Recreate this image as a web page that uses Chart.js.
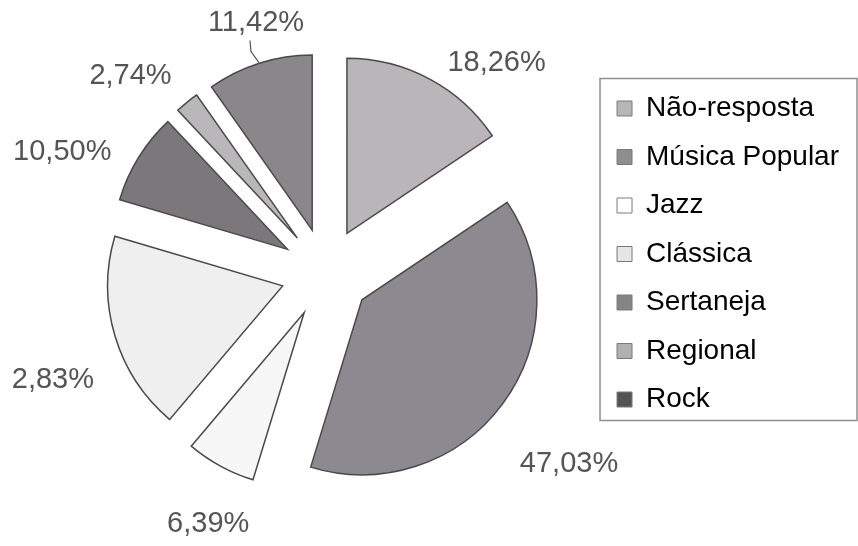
<!DOCTYPE html>
<html>
<head>
<meta charset="utf-8">
<script src="https://cdn.jsdelivr.net/npm/chart.js@4.4.1/dist/chart.umd.min.js"></script>
<style>
  html, body { margin: 0; padding: 0; background: #ffffff; }
  canvas { display: block; }
</style>
</head>
<body>
<canvas id="c" width="858" height="546"></canvas>
<script>
const categories = ['Não-resposta', 'Música Popular', 'Jazz', 'Clássica', 'Sertaneja', 'Regional', 'Rock'];
const shares = [15.5, 38.9, 6.4, 18.3, 8.4, 2.2, 9.7];
const percentLabels = ['18,26%', '47,03%', '6,39%', '2,83%', '10,50%', '2,74%', '11,42%'];

// ---- styling ----
const sliceColors = ['#b9b5b9', '#8d8990', '#f7f7f7', '#efefef', '#7b777b', '#b9b7b9', '#8a8689'];
const legendColors = ['#b6b6b6', '#8e8e8e', '#ffffff', '#e6e6e6', '#848484', '#b0b0b0', '#545454'];
const labelNudgeDeg = [11, 1.5, -3.5, -4.7, -7, -5.7, 2];
const labelDist = [271, 309, 277, 293, 290, 277, 260];
const leaderLabel = 6;
const EXPLODE = 45;

const explodePlugin = {
  id: 'explode',
  afterDatasetsUpdate(chart) {
    const meta = chart.getDatasetMeta(0);
    meta.data.forEach(arc => {
      const mid = (arc.startAngle + arc.endAngle) / 2;
      arc.x += Math.cos(mid) * EXPLODE;
      arc.y += Math.sin(mid) * EXPLODE;
    });
  }
};

const labelPlugin = {
  id: 'pctLabels',
  afterDatasetsDraw(chart) {
    const ctx = chart.ctx;
    const meta = chart.getDatasetMeta(0);
    const a0 = meta.data[0];
    const cx = a0.x - Math.cos((a0.startAngle + a0.endAngle) / 2) * EXPLODE;
    const cy = a0.y - Math.sin((a0.startAngle + a0.endAngle) / 2) * EXPLODE;
    ctx.save();
    ctx.font = '29px "Liberation Sans", Arial, sans-serif';
    ctx.fillStyle = '#555555';
    ctx.textAlign = 'center';
    ctx.textBaseline = 'middle';
    meta.data.forEach((arc, i) => {
      const mid = (arc.startAngle + arc.endAngle) / 2 + labelNudgeDeg[i] * Math.PI / 180;
      const x = cx + Math.cos(mid) * labelDist[i];
      const y = cy + Math.sin(mid) * labelDist[i];
      ctx.fillText(percentLabels[i], x, y);
      if (i === leaderLabel) {
        ctx.strokeStyle = '#555555';
        ctx.lineWidth = 1.2;
        ctx.beginPath();
        ctx.moveTo(x - 6, y + 18);
        ctx.lineTo(x - 5, y + 29);
        ctx.lineTo(x + 3, y + 40);
        ctx.stroke();
      }
    });
    ctx.restore();
  }
};

const legendBoxPlugin = {
  id: 'legendBox',
  afterDraw(chart) {
    const boxes = chart.legend && chart.legend.legendHitBoxes;
    if (!boxes || !boxes.length) return;
    const first = boxes[0], last = boxes[boxes.length - 1];
    const ctx = chart.ctx;
    ctx.save();
    ctx.strokeStyle = '#8f8f8f';
    ctx.lineWidth = 1.5;
    const left = first.left - 17;
    const top = first.top - 16;
    const bottom = last.top + last.height + 7;
    ctx.strokeRect(left, top, chart.width - 1 - left, bottom - top);
    ctx.restore();
  }
};

new Chart(document.getElementById('c'), {
  type: 'pie',
  data: {
    labels: categories,
    datasets: [{
      data: shares,
      backgroundColor: sliceColors,
      borderColor: '#4a4a4a',
      borderWidth: 1.5,
      borderJoinStyle: 'miter'
    }]
  },
  options: {
    responsive: false,
    animation: false,
    radius: 175,
    layout: { padding: { left: 55, top: 74, bottom: 74, right: 9 } },
    plugins: {
      tooltip: { enabled: false },
      legend: {
        position: 'right',
        align: 'start',
        labels: {
          color: '#111111',
          font: { family: '"Liberation Sans", Arial, sans-serif', size: 28 },
          boxWidth: 15,
          boxHeight: 15,
          padding: 20.5,
          generateLabels(chart) {
            return categories.map((name, i) => ({
              text: name,
              fillStyle: legendColors[i],
              strokeStyle: '#7a7a7a',
              lineWidth: 1,
              hidden: false,
              index: i
            }));
          }
        }
      }
    }
  },
  plugins: [explodePlugin, labelPlugin, legendBoxPlugin]
});
</script>
</body>
</html>
